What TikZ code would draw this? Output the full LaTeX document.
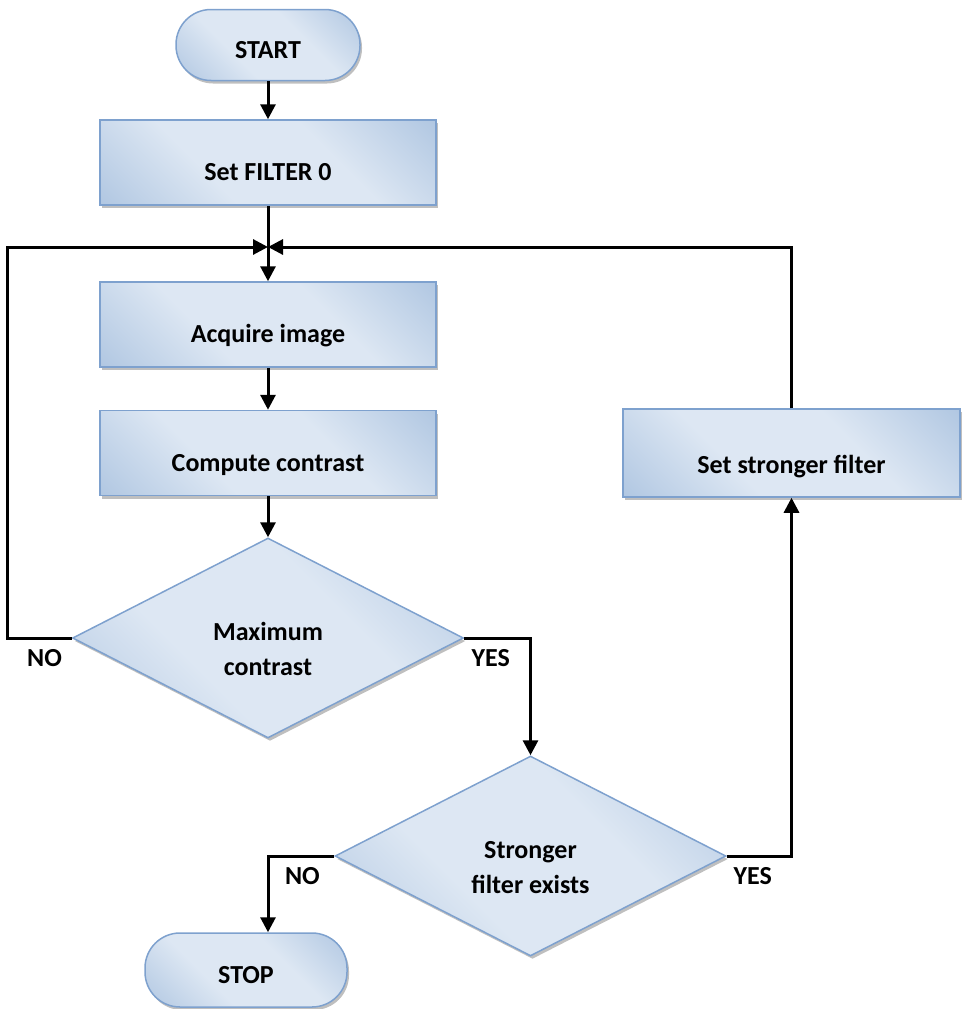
\documentclass[tikz,border=0pt]{standalone}
\usepackage{fontspec}
\setmainfont{Carlito}
\usetikzlibrary{positioning,shapes.geometric,shadows,arrows.meta}

\definecolor{boxdark}{RGB}{149,179,215}
\definecolor{boxlight}{RGB}{221,231,243}
\definecolor{boxline}{RGB}{126,161,206}
\pgfdeclarehorizontalshading{flowshade}{100bp}{color(0bp)=(boxdark); color(38bp)=(boxlight); color(62bp)=(boxlight); color(100bp)=(boxdark)}

\begin{document}
\begin{tikzpicture}[x=1pt,y=-1pt,->,>={Triangle[width=15pt,length=15pt]},line width=3pt,
                font=\fontsize{26}{31}\selectfont\bfseries,
                base/.style={draw=boxline,line width=1.5pt,shading=flowshade,shading angle=45,
                    drop shadow={shadow xshift=2pt,shadow yshift=-3pt,opacity=0.5}},
                proc node/.style={base,rectangle,minimum width=336pt,minimum height=85pt,text height=38pt,text depth=2pt},
                term node/.style={base,rectangle,rounded corners=35pt,minimum height=71pt,text height=27pt,text depth=0pt},
                test node/.style={base,diamond,aspect=2,minimum width=391pt,minimum height=200pt,inner sep=0pt,
                    align=center,text height=76pt,text depth=2pt},
                answer/.style={below,yshift=-7pt}]
	\useasboundingbox (0,0) rectangle (961,1009);

	\node[term node,minimum width=184pt] (start) at (268,45) {START};
	\node[proc node] (filter) [node distance=117.5pt,below of = start] {Set FILTER 0};
	\node[proc node] (acquire) [node distance=162pt,below of = filter] {Acquire image};
	\node[proc node] (contrast) [node distance=128.5pt,below of = acquire] {Compute contrast};
	\node[test node] (maxc) [node distance=185pt,below of = contrast] {Maximum\\[4pt]contrast};
	\node[test node] (exists) [node distance=218pt,below of = maxc,xshift=262.5pt] {Stronger\\[4pt]filter exists};
	\node[term node,minimum width=202pt,minimum height=74pt] (stop) [node distance=114pt,below of = exists,xshift=-284.5pt] {STOP};
	\node[proc node,minimum width=337pt,minimum height=88pt,text height=42pt] (stronger) [node distance=523.5pt,right of = contrast] {Set stronger filter};

	\coordinate (join) at (268,247);
	\coordinate (noturn) at (7,638);

	\path
	(start) edge (filter)
	(filter) edge (acquire)
	(acquire) edge (contrast)
	(contrast) edge (maxc)
;
	\draw (maxc.west) -- node[answer,pos=0.42] {NO} (noturn) |- (join);
	\draw (stronger.north) |- (join);
	\draw (maxc.east) -| node[answer,pos=0.2] {YES} (exists.north);
	\draw (exists.west) -| node[answer,pos=0.24] {NO} (stop.north -| join);
	\draw (exists.east) -| node[answer,pos=0.2] {YES} (stronger.south);
\end{tikzpicture}
\end{document}
